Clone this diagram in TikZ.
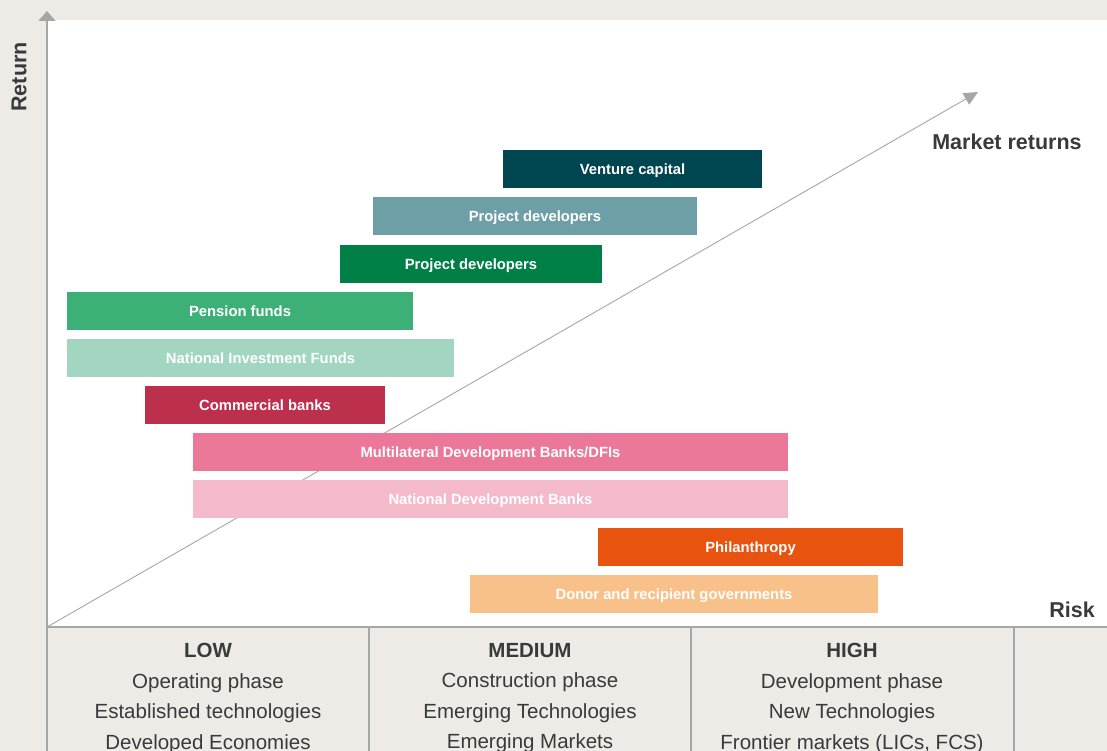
\documentclass[tikz,border=0pt]{standalone}
\usepackage{fontspec}
\setmainfont{Liberation Sans}
\usetikzlibrary{arrows.meta}

\definecolor{paper}{HTML}{EEEAE6}
\definecolor{ink}{HTML}{3A3A3A}
\definecolor{axisgrey}{HTML}{A6A6A6}
\definecolor{vc}{HTML}{004651}
\definecolor{pdgrey}{HTML}{6E9FA6}
\definecolor{pdgreen}{HTML}{007F47}
\definecolor{pension}{HTML}{3DB077}
\definecolor{nif}{HTML}{A3D6C1}
\definecolor{commercial}{HTML}{BC2F4D}
\definecolor{mdb}{HTML}{EB7898}
\definecolor{ndb}{HTML}{F5BACA}
\definecolor{philanthropy}{HTML}{E8530F}
\definecolor{donor}{HTML}{F8C18A}

\tikzset{
  bar/.style={rectangle, inner sep=0pt, minimum height=38pt, text=white,
    text height=10.5pt, text depth=0pt,
    font=\fontsize{14.8}{17}\selectfont\bfseries},
  axislabel/.style={text=ink, font=\fontsize{21.5}{24}\selectfont\bfseries},
  riskcol/.style={text=ink, align=center, anchor=north, inner sep=0pt,
    font=\fontsize{20.5}{30.5}\selectfont},
}

\begin{document}
\begin{tikzpicture}[x=1pt,y=-1pt]
\clip (0,0) rectangle (1107,751);
\fill[paper] (0,0) rectangle (1107,751);
\fill[white] (47,20) rectangle (1107,627);
% axes and market line
\coordinate (origin) at (47,627);
\coordinate (ytop) at (47,11);
\coordinate (xend) at (1107,627);
\coordinate (mkt) at (978,92);
\draw[axisgrey, line width=0.9pt, -{Triangle[width=13pt,length=14pt]}] (origin) -- (mkt);
\draw[axisgrey, line width=1.5pt, -{Triangle[width=17pt,length=10pt]}] (origin) -- (ytop);
\draw[axisgrey, line width=1.2pt] (origin) -- (xend);
\foreach \xv in {47,369,691,1014} \draw[axisgrey, line width=1.2pt] (\xv,627) -- (\xv,751);
% investor bars
\foreach \xa/\xb/\yc/\col/\txt [count=\i, evaluate=\xa as \w using {\xb-\xa}, evaluate=\xa as \xm using {(\xa+\xb)/2}] in {
  503/762/169/vc/Venture capital,
  373/697/216/pdgrey/Project developers,
  340/602/264/pdgreen/Project developers,
  67/413/311/pension/Pension funds,
  67/454/358/nif/National Investment Funds,
  145/385/405/commercial/Commercial banks,
  193/788/452/mdb/{Multilateral Development Banks/DFIs},
  193/788/499/ndb/National Development Banks,
  598/903/547/philanthropy/Philanthropy,
  470/878/594/donor/Donor and recipient governments}
  \node[bar, fill=\col, minimum width=\w pt] (bar\i) at (\xm,\yc) {\txt};
% labels
\node[axislabel, rotate=90] (return) at (19,77) {Return};
\node[axislabel] (mktlabel) at (1007,142) {Market returns};
\node[axislabel] (risk) at (1072,610) {Risk};
% risk levels
\node[riskcol] (low) at (208,643) {\textbf{LOW}\\Operating phase\\Established technologies\\Developed Economies};
\node[riskcol] (medium) at (530,643) {\textbf{MEDIUM}\\Construction phase\\Emerging Technologies\\Emerging Markets};
\node[riskcol] (high) at (852,643) {\textbf{HIGH}\\Development phase\\New Technologies\\Frontier markets (LICs, FCS)};
\end{tikzpicture}
\end{document}
